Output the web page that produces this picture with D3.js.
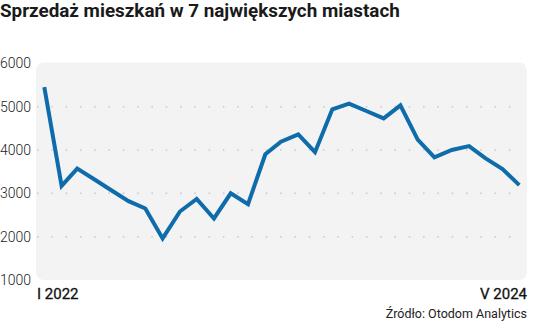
<!DOCTYPE html>
<html>
<head>
<meta charset="utf-8">
<script src="https://cdn.jsdelivr.net/npm/d3@7"></script>
<style>
  body { margin: 0; background: #fff; }
  svg { display: block; font-family: Roboto, "Noto Sans", sans-serif; }
</style>
</head>
<body>
<script>
// dane: sprzedaż mieszkań, I 2022 - V 2024 (miesięcznie)
const miesiace = d3.range(29).map(i => new Date(2022, i, 1));
const sprzedaz = [5450, 3170, 3570, 3320, 3070, 2820, 2650, 1960, 2580, 2870, 2420, 3000, 2750, 3900,
  4190, 4360, 3950, 4940, 5070, 4900, 4730, 5030, 4240, 3830, 4000, 4090, 3810, 3560, 3190];
const yTicks = [1000, 2000, 3000, 4000, 5000, 6000];
const xLabels = ["I 2022", "V 2024"];

const W = 536, H = 321;

let svg = d3.select("body")
    .append("svg")
    .attr("width", W)
    .attr("height", H);

//skale
let x = d3.scaleTime()
    .domain(d3.extent(miesiace))
    .range([44.3, 519.3]);

let y = d3.scaleLinear()
    .domain([1000, 6000])
    .range([280, 63.3]);

// tytuł
let title = svg.append("text")
    .text("Sprzedaż mieszkań w 7 największych miastach")
    .attr("x", 0)
    .attr("y", 17)
    .style("font-size", "18px")
    .style("font-weight", "700")
    .style("fill", "#1a1a1a");
// dopasowanie szerokości tytułu
let tw = title.node().getComputedTextLength();
title.style("font-size", (18 * 400 / tw) + "px");

// tło wykresu
svg.append("rect")
    .attr("x", 36)
    .attr("y", y(6000) - 0.8)
    .attr("width", 491)
    .attr("height", y(1000) - y(6000) + 0.8)
    .attr("rx", 8)
    .attr("fill", "#f3f3f3");

// linie siatki (kropkowane)
svg.append("g")
    .selectAll("line")
    .data(yTicks.filter(d => d > 1000 && d < 6000))
    .enter()
    .append("line")
    .attr("x1", 37)
    .attr("x2", 522)
    .attr("y1", d => y(d))
    .attr("y2", d => y(d))
    .attr("stroke", "#c8c8c8")
    .attr("stroke-width", 1.5)
    .attr("stroke-dasharray", "1.5,12.8");

// oś Y
let axisY = svg.append("g")
    .attr("transform", "translate(31,0)")
    .call(d3.axisLeft(y).tickValues(yTicks).tickSize(0).tickPadding(0).tickFormat(d3.format("d")));
axisY.select(".domain").remove();
axisY.selectAll("text")
    .style("font-size", "14px")
    .style("font-family", "Roboto, sans-serif")
    .style("font-weight", "300")
    .attr("fill", "#222");

// linia
svg.append("path")
    .datum(sprzedaz)
    .attr("fill", "none")
    .attr("stroke", "#0f6cab")
    .attr("stroke-width", 4)
    .attr("stroke-linejoin", "miter")
    .attr("d", d3.line()
        .x((d, i) => x(miesiace[i]))
        .y(d => y(d)));

// etykiety osi X
svg.append("text")
    .text(xLabels[0])
    .attr("x", 37)
    .attr("y", 299)
    .style("font-size", "15px")
    .style("font-weight", "400")
    .style("stroke", "#111")
    .style("stroke-width", "0.3px")
    .style("fill", "#111");

svg.append("text")
    .text(xLabels[1])
    .attr("x", 527)
    .attr("y", 299)
    .attr("text-anchor", "end")
    .style("font-size", "15px")
    .style("font-weight", "400")
    .style("stroke", "#111")
    .style("stroke-width", "0.3px")
    .style("fill", "#111");

// źródło
svg.append("text")
    .text("Źródło: Otodom Analytics")
    .attr("x", 527)
    .attr("y", 318)
    .attr("text-anchor", "end")
    .style("font-size", "12.5px")
    .style("fill", "#222");
</script>
</body>
</html>
